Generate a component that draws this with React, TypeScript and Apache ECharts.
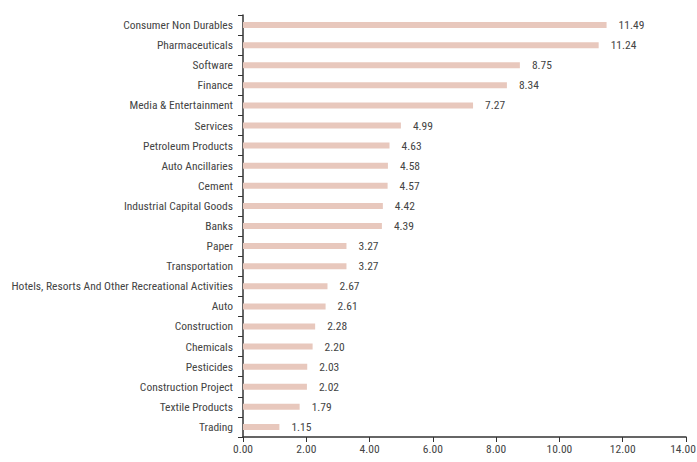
import React, { useEffect, useRef } from "react";
import * as echarts from "echarts";

const categories = [
  "Consumer Non Durables",
  "Pharmaceuticals",
  "Software",
  "Finance",
  "Media & Entertainment",
  "Services",
  "Petroleum Products",
  "Auto Ancillaries",
  "Cement",
  "Industrial Capital Goods",
  "Banks",
  "Paper",
  "Transportation",
  "Hotels, Resorts And Other Recreational Activities",
  "Auto",
  "Construction",
  "Chemicals",
  "Pesticides",
  "Construction Project",
  "Textile Products",
  "Trading",
];
const values = [11.49, 11.24, 8.75, 8.34, 7.27, 4.99, 4.63, 4.58, 4.57, 4.42, 4.39, 3.27, 3.27, 2.67, 2.61, 2.28, 2.2, 2.03, 2.02, 1.79, 1.15];

const FONT = "'Roboto Condensed', 'Liberation Sans Narrow', sans-serif";
const FS = 11.5;
const X_MAX = 14;

export default function App() {
  const ref = useRef<HTMLDivElement>(null);
  useEffect(() => {
    const chart = echarts.init(ref.current!, undefined, { renderer: "svg" });
    chart.setOption({
      animation: false,
      grid: { left: 243, right: 11, top: 15, bottom: 25, containLabel: false, outerBoundsMode: "none" },
      xAxis: {
        type: "value",
        min: 0,
        max: X_MAX,
        interval: 2,
        axisLine: { show: true, lineStyle: { color: "#333", width: 1.5 } },
        axisTick: { show: true, length: 5, lineStyle: { color: "#333" } },
        splitLine: { show: false },
        axisLabel: {
          color: "#444",
          fontFamily: FONT,
          fontSize: FS,
          margin: 6,
          formatter: (v: number) => (v === X_MAX ? "{e|" + v.toFixed(2) + "}" : v.toFixed(2)),
          rich: { e: { color: "#444", fontFamily: FONT, fontSize: FS, padding: [0, 6, 0, 0] } },
        },
      },
      yAxis: {
        type: "category",
        inverse: true,
        data: categories,
        axisLine: { show: true, lineStyle: { color: "#333", width: 1.5 } },
        axisTick: { show: true, length: 5, lineStyle: { color: "#333" } },
        axisLabel: { color: "#444", fontFamily: FONT, fontSize: FS, margin: 10 },
      },
      series: [
        {
          type: "bar",
          data: values,
          barWidth: 6,
          itemStyle: { color: "#e8c8bd" },
          label: {
            show: true,
            position: "right",
            distance: 12,
            color: "#444",
            fontFamily: FONT,
            fontSize: FS,
            formatter: (p: any) => p.value.toFixed(2),
          },
        },
      ],
    });
    return () => chart.dispose();
  }, []);
  return <div ref={ref} style={{ position: "absolute", left: 0, top: 0, width: 697, height: 462 }} />;
}
